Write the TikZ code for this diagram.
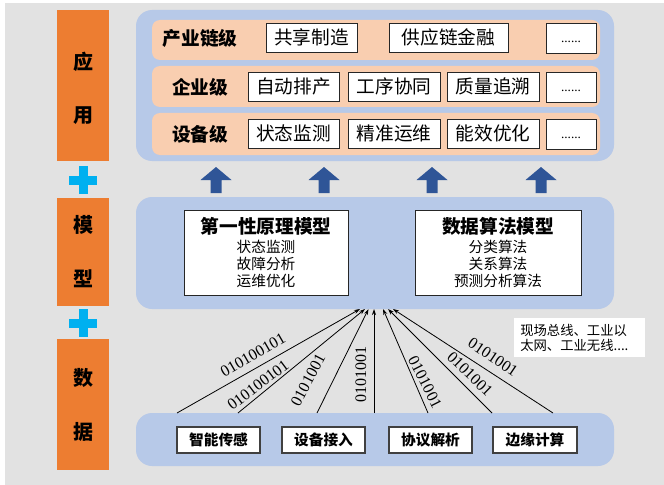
\documentclass[tikz,border=0pt]{standalone}
\usepackage{fontspec}
\setmainfont{Liberation Serif}
\newfontfamily\cjk{Noto Sans CJK SC}
\usetikzlibrary{fit,arrows.meta}
\definecolor{bggray}{RGB}{226,226,226}
\definecolor{panelblue}{RGB}{183,201,232}
\definecolor{peach}{RGB}{249,206,176}
\definecolor{sideorange}{RGB}{237,125,49}
\definecolor{arrowblue}{RGB}{47,85,151}
\definecolor{pluscyan}{RGB}{0,176,240}
\tikzset{
  panel/.style={fill=panelblue, rounded corners=12pt, inner sep=0pt},
  row/.style={fill=peach, rounded corners=6pt, inner sep=0pt},
  appbox/.style={draw=black!85, fill=white, line width=0.7pt, inner sep=0pt},
  apptext/.style={inner sep=0pt, font=\cjk\fontsize{14pt}{16pt}\selectfont},
  dottext/.style={inner sep=0pt, font=\fontsize{10pt}{12pt}\selectfont},
  lvl/.style={font=\cjk\bfseries\fontsize{14pt}{16pt}\selectfont},
  sidebar/.style={fill=sideorange, inner sep=0pt},
  sidechar/.style={font=\cjk\bfseries\fontsize{15pt}{17pt}\selectfont},
  modelbox/.style={draw=black!85, fill=white, line width=0.7pt, inner sep=0pt},
  modeltitle/.style={font=\cjk\bfseries\fontsize{14pt}{16pt}\selectfont},
  modelitems/.style={align=center, font=\cjk\fontsize{11pt}{12.75pt}\selectfont},
  databox/.style={draw=black!75, fill=white, line width=0.9pt, inner sep=0pt},
  datatext/.style={inner sep=0pt, font=\cjk\bfseries\fontsize{11pt}{13pt}\selectfont},
  link/.style={line width=0.6pt, -{Stealth[length=4.5pt,width=3pt]}},
  bin/.style={font=\fontsize{12pt}{14pt}\selectfont, inner sep=0pt},
  note/.style={fill=white, inner sep=0pt},
  notetext/.style={align=left, font=\cjk\fontsize{10pt}{11.25pt}\selectfont, inner sep=0pt},
  upblock/.style={fill=arrowblue},
  plussign/.style={fill=pluscyan},
}
\begin{document}
\begin{tikzpicture}[x=0.75pt,y=-0.75pt]
\useasboundingbox (0,0) rectangle (664,485);
\fill[white] (0,0) rectangle (664,485);
\fill[bggray] (5,3) rectangle (664,485);

% side bars
\node[sidebar, fit={(57,10) (109,161)}] (sideapp) {};
\node[sidechar] (c1) at (83,62) {应};
\node[sidechar] (c2) at (83,116) {用};
\node[sidebar, fit={(57,198) (109,306)}] (sidemodel) {};
\node[sidechar] (c3) at (83,225) {模};
\node[sidechar] (c4) at (83,279) {型};
\node[sidebar, fit={(57,339) (109,470)}] (sidedata) {};
\node[sidechar] (c5) at (83,378) {数};
\node[sidechar] (c6) at (83,432) {据};

% plus signs
\foreach \cy in {180,323} {
  \fill[plussign] (69,\cy-4.5) rectangle (97,\cy+4.5);
  \fill[plussign] (78.5,\cy-14) rectangle (87.5,\cy+14);
}

% application panel
\node[panel, fit={(136,10) (614,161)}] (apppanel) {};
\node[row, fit={(152,20) (600,60)}] (row1) {};
\node[row, fit={(152,66) (600,107)}] (row2) {};
\node[row, fit={(152,113) (600,155)}] (row3) {};

\node[lvl] (l1) at (200,38) {产业链级};
\node[lvl] (l2) at (200,87) {企业级};
\node[lvl] (l3) at (200,134) {设备级};

\node[appbox, fit={(266,23) (357,52)}] (a11) {};
\node[apptext] at (a11) {共享制造};
\node[appbox, fit={(389,23) (508,52)}] (a12) {};
\node[apptext] at (a12) {供应链金融};
\node[appbox, fit={(546,23) (596,53)}] (a13) {};
\node[dottext] at ([yshift=-3pt]a13.center) {......};

\node[appbox, fit={(248,72) (339,101)}] (a21) {};
\node[apptext] at (a21) {自动排产};
\node[appbox, fit={(348,72) (440,101)}] (a22) {};
\node[apptext] at (a22) {工序协同};
\node[appbox, fit={(447,72) (539,101)}] (a23) {};
\node[apptext] at (a23) {质量追溯};
\node[appbox, fit={(546,72) (596,102)}] (a24) {};
\node[dottext] at ([yshift=-3pt]a24.center) {......};

\node[appbox, fit={(248,119) (339,148)}] (a31) {};
\node[apptext] at (a31) {状态监测};
\node[appbox, fit={(348,119) (440,148)}] (a32) {};
\node[apptext] at (a32) {精准运维};
\node[appbox, fit={(447,119) (539,148)}] (a33) {};
\node[apptext] at (a33) {能效优化};
\node[appbox, fit={(546,119) (596,149)}] (a34) {};
\node[dottext] at ([yshift=-3pt]a34.center) {......};

% blue up arrows
\foreach \c in {216,324,432,541} {
  \fill[upblock] (\c-5.5,193) -- (\c-5.5,180) -- (\c-15.5,180) -- (\c,167) -- (\c+15.5,180) -- (\c+5.5,180) -- (\c+5.5,193) -- cycle;
}

% model panel
\node[panel, fit={(136,197) (614,309)}] (modelpanel) {};
\node[modelbox, fit={(184,210) (348,295)}] (m1) {};
\node[modeltitle] (m1t) at (266,226) {第一性原理模型};
\node[modelitems] (m1i) at (266,264) {状态监测\\故障分析\\运维优化};
\node[modelbox, fit={(415,210) (581,295)}] (m2) {};
\node[modeltitle] (m2t) at (498,226) {数据算法模型};
\node[modelitems] (m2i) at (498,264) {分类算法\\关系算法\\预测分析算法};

% data panel
\node[panel, fit={(136,413) (614,466)}] (datapanel) {};
\node[databox, fit={(177,427) (260,453)}] (d1) {};
\node[datatext] at (d1) {智能传感};
\node[databox, fit={(282,427) (365,453)}] (d2) {};
\node[datatext] at (d2) {设备接入};
\node[databox, fit={(389,427) (472,453)}] (d3) {};
\node[datatext] at (d3) {协议解析};
\node[databox, fit={(493,427) (577,453)}] (d4) {};
\node[datatext] at (d4) {边缘计算};

% data links
\coordinate (s1) at (177,413); \coordinate (e1) at (360,309);
\coordinate (s2) at (238,413); \coordinate (e2) at (365,309);
\coordinate (s3) at (317,413); \coordinate (e3) at (368.5,309);
\coordinate (s4) at (374,413); \coordinate (e4) at (374,309);
\coordinate (s5) at (428,413); \coordinate (e5) at (383,309);
\coordinate (s6) at (492,413); \coordinate (e6) at (388,309);
\coordinate (s7) at (553,413); \coordinate (e7) at (393,309);
\foreach \i in {1,...,7} { \draw[link] (s\i) -- (e\i); }

\node[bin, rotate=30] (b1) at (253,355) {010100101};
\node[bin, rotate=37] (b2) at (258,385) {010100101};
\node[bin, rotate=62] (b3) at (308,380) {0101001};
\node[bin, rotate=90] (b4) at (361,374) {0101001};
\node[bin, rotate=-63] (b5) at (425,382) {0101001};
\node[bin, rotate=-44] (b6) at (470,374) {0101001};
\node[bin, rotate=-34] (b7) at (493,357) {0101001};

% note
\node[note, fit={(514,318) (645,357)}] (notebox) {};
\node[notetext, anchor=west] (notet) at (520,337.5) {现场总线、工业以\\太网、工业无线....};
\end{tikzpicture}
\end{document}
